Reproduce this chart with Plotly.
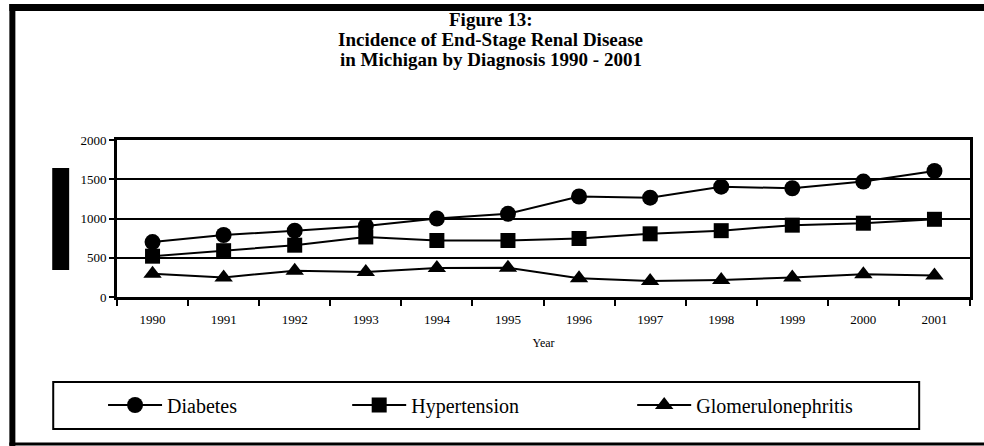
import plotly.graph_objects as go

# Data
years = ["1990", "1991", "1992", "1993", "1994", "1995",
         "1996", "1997", "1998", "1999", "2000", "2001"]
diabetes = [700, 790, 845, 905, 1000, 1060, 1280, 1265, 1405, 1385, 1470, 1605]
hypertension = [520, 590, 660, 765, 720, 720, 745, 805, 845, 915, 940, 990]
glomerulonephritis = [295, 250, 335, 320, 370, 372, 240, 205, 218, 248, 290, 275]

title_lines = [
    "Figure 13:",
    "Incidence of End-Stage Renal Disease",
    "in Michigan by Diagnosis 1990 - 2001",
]

FONT = "Liberation Serif, Times New Roman, serif"
W, H = 984, 446
L, R, T, B = 117, 11, 140, 149
PW, PH = W - L - R, H - T - B


def px(x):
    # pixel x -> paper x
    return (x - L) / PW


def py(y):
    # pixel y (from top) -> paper y
    return (H - B - y) / PH


series = [
    ("Diabetes", diabetes, "circle", 16, "legend"),
    ("Hypertension", hypertension, "square", 15, "legend2"),
    ("Glomerulonephritis", glomerulonephritis, "triangle-up", 16, "legend3"),
]

fig = go.Figure()
for name, vals, sym, size, leg in series:
    fig.add_trace(
        go.Scatter(
            x=years,
            y=vals,
            mode="lines+markers",
            name=name,
            line=dict(color="black", width=2),
            marker=dict(symbol=sym, size=size, color="black"),
            legend=leg,
        )
    )

# title lines as separate annotations (tight line spacing like the original)
annotations = []
for i, line in enumerate(title_lines):
    annotations.append(
        dict(
            text="<b>%s</b>" % line,
            x=px(492), y=py(20 + 20 * i),
            xref="paper", yref="paper",
            xanchor="center", yanchor="middle",
            showarrow=False,
            font=dict(family=FONT, size=19, color="black"),
        )
    )

shapes = [
    # outer frame
    dict(type="line", xref="paper", yref="paper",
         x0=px(12), x1=px(12), y0=py(4), y1=py(446),
         line=dict(color="black", width=6)),
    dict(type="line", xref="paper", yref="paper",
         x0=px(9), x1=px(990), y0=py(7.5), y1=py(7.5),
         line=dict(color="black", width=7)),
    dict(type="line", xref="paper", yref="paper",
         x0=px(9), x1=px(990), y0=py(444), y1=py(444),
         line=dict(color="black", width=3)),
    # blacked-out axis title
    dict(type="rect", xref="paper", yref="paper",
         x0=px(52), x1=px(69), y0=py(270), y1=py(168),
         fillcolor="black", line=dict(width=0)),
    # legend box
    dict(type="rect", xref="paper", yref="paper",
         x0=px(53), x1=px(922), y0=py(429), y1=py(382),
         line=dict(color="black", width=2)),
]

legend_style = dict(
    orientation="h",
    xanchor="left", yanchor="middle",
    bgcolor="rgba(0,0,0,0)",
    borderwidth=0,
    itemwidth=54,
    font=dict(family=FONT, size=20, color="black"),
)

fig.update_layout(
    width=W,
    height=H,
    margin=dict(l=L, r=R, t=T, b=B),
    paper_bgcolor="white",
    plot_bgcolor="white",
    font=dict(family=FONT, size=13, color="black"),
    showlegend=True,
    legend=dict(x=px(103), y=py(405), **legend_style),
    legend2=dict(x=px(348), y=py(405), **legend_style),
    legend3=dict(x=px(634), y=py(405), **legend_style),
    annotations=annotations,
    shapes=shapes,
    xaxis=dict(
        type="category",
        range=[-0.5, len(years) - 0.5],
        tickson="boundaries",
        ticks="outside",
        ticklen=6,
        tickwidth=2,
        tickcolor="black",
        ticklabelstandoff=8,
        showline=True,
        linecolor="black",
        linewidth=3,
        mirror=True,
        showgrid=False,
        tickfont=dict(family=FONT, size=13),
        title=dict(text="Year", font=dict(family=FONT, size=12), standoff=14),
    ),
    yaxis=dict(
        range=[0, 2000],
        dtick=500,
        ticks="outside",
        ticklen=5,
        tickwidth=2,
        tickcolor="black",
        showline=True,
        linecolor="black",
        linewidth=3,
        mirror=True,
        showgrid=True,
        gridcolor="black",
        gridwidth=2,
        zeroline=False,
        tickfont=dict(family=FONT, size=13),
    ),
)

fig.write_html(
    "out.html",
    config={"displayModeBar": False},
    post_script="document.body.style.margin='0';",
)
